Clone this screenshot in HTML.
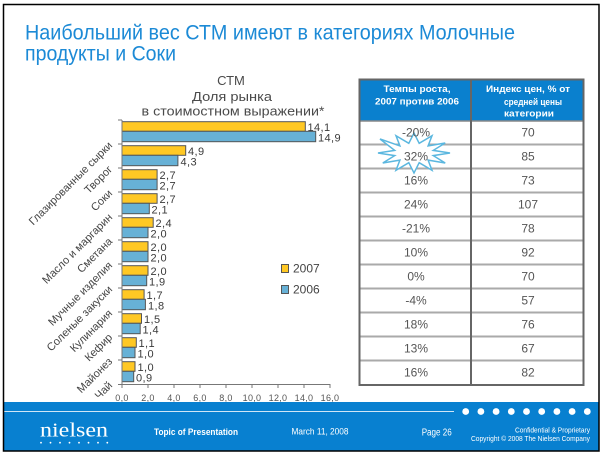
<!DOCTYPE html>
<html>
<head>
<meta charset="utf-8">
<style>
  html, body { margin:0; padding:0; background:#fff; }
  body { width:603px; height:457px; overflow:hidden; }
  svg { display:block; }
  text { font-family: "Liberation Sans", "Noto Sans CJK SC", sans-serif; }
</style>
</head>
<body>
<svg width="603" height="457" viewBox="0 0 603 457" xmlns="http://www.w3.org/2000/svg">
  <rect x="0" y="0" width="603" height="457" fill="#fff"/>

  <!-- Title -->
  <text x="25" y="39.5" font-size="21.5" fill="#1C8AD6" textLength="490" lengthAdjust="spacingAndGlyphs">Наибольший вес СТМ имеют в категориях Молочные</text>
  <text x="25" y="60.5" font-size="21.5" fill="#1C8AD6" textLength="151" lengthAdjust="spacingAndGlyphs">продукты и Соки</text>

  <!-- Chart title -->
  <text x="231" y="85" font-size="13" fill="#4a4a4a" text-anchor="middle">СТМ</text>
  <text x="232" y="101" font-size="13" fill="#4a4a4a" text-anchor="middle" textLength="80" lengthAdjust="spacingAndGlyphs">Доля рынка</text>
  <text x="233" y="115.5" font-size="13" fill="#4a4a4a" text-anchor="middle" textLength="183" lengthAdjust="spacingAndGlyphs">в стоимостном выражении*</text>

  <!-- Bars -->
  <g stroke="#555" stroke-width="1">
    <!-- group 0 -->
    <rect x="122" y="121.7" width="183.3" height="9.6" fill="#FFC824"/>
    <rect x="122" y="131.3" width="193.7" height="10.4" fill="#67B1D6"/>
    <rect x="122" y="145.7" width="63.7" height="9.6" fill="#FFC824"/>
    <rect x="122" y="155.3" width="55.9" height="10.4" fill="#67B1D6"/>
    <rect x="122" y="169.7" width="35.1" height="9.6" fill="#FFC824"/>
    <rect x="122" y="179.3" width="35.1" height="10.4" fill="#67B1D6"/>
    <rect x="122" y="193.7" width="35.1" height="9.6" fill="#FFC824"/>
    <rect x="122" y="203.3" width="27.3" height="10.4" fill="#67B1D6"/>
    <rect x="122" y="217.7" width="31.2" height="9.6" fill="#FFC824"/>
    <rect x="122" y="227.3" width="26" height="10.4" fill="#67B1D6"/>
    <rect x="122" y="241.7" width="26" height="9.6" fill="#FFC824"/>
    <rect x="122" y="251.3" width="26" height="10.4" fill="#67B1D6"/>
    <rect x="122" y="265.7" width="26" height="9.6" fill="#FFC824"/>
    <rect x="122" y="275.3" width="24.7" height="10.4" fill="#67B1D6"/>
    <rect x="122" y="289.7" width="22.1" height="9.6" fill="#FFC824"/>
    <rect x="122" y="299.3" width="23.4" height="10.4" fill="#67B1D6"/>
    <rect x="122" y="313.7" width="19.5" height="9.6" fill="#FFC824"/>
    <rect x="122" y="323.3" width="18.2" height="10.4" fill="#67B1D6"/>
    <rect x="122" y="337.7" width="14.3" height="9.6" fill="#FFC824"/>
    <rect x="122" y="347.3" width="13" height="10.4" fill="#67B1D6"/>
    <rect x="122" y="361.7" width="13" height="9.6" fill="#FFC824"/>
    <rect x="122" y="371.3" width="11.7" height="10.4" fill="#67B1D6"/>
  </g>

  <!-- Value labels -->
  <g font-size="11" fill="#3a3a3a" letter-spacing="0.4">
    <text x="307.5" y="131">14,1</text>
    <text x="318" y="141.7">14,9</text>
    <text x="188" y="155">4,9</text>
    <text x="180.5" y="165.7">4,3</text>
    <text x="159.5" y="179">2,7</text>
    <text x="159.5" y="189.7">2,7</text>
    <text x="159.5" y="203">2,7</text>
    <text x="151.5" y="213.7">2,1</text>
    <text x="155.5" y="227">2,4</text>
    <text x="150.5" y="237.7">2,0</text>
    <text x="150.5" y="251">2,0</text>
    <text x="150.5" y="261.7">2,0</text>
    <text x="150.5" y="275">2,0</text>
    <text x="149" y="285.7">1,9</text>
    <text x="146.5" y="299">1,7</text>
    <text x="148" y="309.7">1,8</text>
    <text x="144" y="323">1,5</text>
    <text x="142.5" y="333.7">1,4</text>
    <text x="138.5" y="347">1,1</text>
    <text x="137.5" y="357.7">1,0</text>
    <text x="137.5" y="371">1,0</text>
    <text x="136" y="381.7">0,9</text>
  </g>

  <!-- Axes -->
  <g stroke="#777" stroke-width="1" fill="none">
    <line x1="122" y1="120" x2="122" y2="384.5"/>
    <line x1="122" y1="384.5" x2="330.5" y2="384.5"/>
    <path d="M118 120H122 M118 144H122 M118 168H122 M118 192H122 M118 216H122 M118 240H122 M118 264H122 M118 288H122 M118 312H122 M118 336H122 M118 360H122 M118 384.5H122"/>
    <path d="M122 384.5V388 M148 384.5V388 M174 384.5V388 M200 384.5V388 M226 384.5V388 M252 384.5V388 M278 384.5V388 M304 384.5V388 M330 384.5V388"/>
  </g>

  <!-- X tick labels -->
  <g font-size="9" fill="#555" text-anchor="middle" letter-spacing="0.3">
    <text x="122" y="401">0,0</text>
    <text x="148" y="401">2,0</text>
    <text x="174" y="401">4,0</text>
    <text x="200" y="401">6,0</text>
    <text x="226" y="401">8,0</text>
    <text x="252" y="401">10,0</text>
    <text x="278" y="401">12,0</text>
    <text x="304" y="401">14,0</text>
    <text x="330" y="401">16,0</text>
  </g>

  <!-- Category labels (rotated) -->
  <g font-size="11" fill="#444" text-anchor="end">
    <text transform="translate(113,146) rotate(-45)">Глазированные сырки</text>
    <text transform="translate(113,170) rotate(-45)">Творог</text>
    <text transform="translate(113,194) rotate(-45)">Соки</text>
    <text transform="translate(113,218) rotate(-45)">Масло и маргарин</text>
    <text transform="translate(113,242) rotate(-45)">Сметана</text>
    <text transform="translate(113,266) rotate(-45)">Мучные изделия</text>
    <text transform="translate(113,290) rotate(-45)">Соленые закуски</text>
    <text transform="translate(113,314) rotate(-45)">Кулинария</text>
    <text transform="translate(113,338) rotate(-45)">Кефир</text>
    <text transform="translate(113,362) rotate(-45)">Майонез</text>
    <text transform="translate(113,386) rotate(-45)">Чай</text>
  </g>

  <!-- Legend -->
  <rect x="281.5" y="264.5" width="7" height="8" fill="#FFC824" stroke="#555" stroke-width="1"/>
  <text x="293" y="272.5" font-size="12" fill="#444">2007</text>
  <rect x="281.5" y="285.5" width="7" height="8" fill="#67B1D6" stroke="#555" stroke-width="1"/>
  <text x="293" y="293.5" font-size="12" fill="#444">2006</text>

  <!-- Table -->
  <rect x="359.5" y="79.5" width="224" height="41" fill="#0A80CE"/>
  <g stroke="#aaa" stroke-width="2">
    <line x1="360" y1="144.5" x2="583" y2="144.5"/>
    <line x1="360" y1="168.5" x2="583" y2="168.5"/>
    <line x1="360" y1="192.5" x2="583" y2="192.5"/>
    <line x1="360" y1="216.5" x2="583" y2="216.5"/>
    <line x1="360" y1="240.5" x2="583" y2="240.5"/>
    <line x1="360" y1="264.5" x2="583" y2="264.5"/>
    <line x1="360" y1="288.5" x2="583" y2="288.5"/>
    <line x1="360" y1="312.5" x2="583" y2="312.5"/>
    <line x1="360" y1="336.5" x2="583" y2="336.5"/>
    <line x1="360" y1="360.5" x2="583" y2="360.5"/>
  </g>
  <line x1="360" y1="121" x2="583" y2="121" stroke="#888" stroke-width="1.5"/>
  <line x1="471" y1="80" x2="471" y2="385" stroke="#666" stroke-width="2"/>
  <rect x="359.5" y="79.5" width="224" height="305.5" fill="none" stroke="#666" stroke-width="2"/>

  <!-- Header text -->
  <g font-size="9.5" font-weight="bold" fill="#fff" text-anchor="middle">
    <text x="417" y="92" textLength="67" lengthAdjust="spacingAndGlyphs">Темпы роста,</text>
    <text x="417" y="104.5" textLength="84" lengthAdjust="spacingAndGlyphs">2007 против 2006</text>
    <text x="528" y="92" textLength="84" lengthAdjust="spacingAndGlyphs">Индекс цен, % от</text>
    <text x="533" y="105" textLength="58" lengthAdjust="spacingAndGlyphs">средней цены</text>
    <text x="529" y="116.5" textLength="50" lengthAdjust="spacingAndGlyphs">категории</text>
  </g>

  <!-- Starburst -->
  <polygon points="450,153 433.3,155.6 445.2,163 428.1,160.1 432,170.3 419.2,162.7 414,173 408.8,162.7 396,170.3 399.9,160.1 382.8,163 394.7,155.6 378,153 394.7,150.4 380,139 399.9,145.9 396,135.7 408.8,143.3 414,133 419.2,143.3 432,135.7 428.1,145.9 445.2,143 433.3,150.4"
           fill="#fff" stroke="#5BB7DF" stroke-width="1.5" stroke-linejoin="miter"/>

  <!-- Table cell text -->
  <g font-size="12" fill="#555" text-anchor="middle">
    <text x="416" y="136.5">-20%</text>
    <text x="416" y="160.5">32%</text>
    <text x="416" y="184.5">16%</text>
    <text x="416" y="208.5">24%</text>
    <text x="416" y="232.5">-21%</text>
    <text x="416" y="256.5">10%</text>
    <text x="416" y="280.5">0%</text>
    <text x="416" y="304.5">-4%</text>
    <text x="416" y="328.5">18%</text>
    <text x="416" y="352.5">13%</text>
    <text x="416" y="376.5">16%</text>
    <text x="528" y="136.5">70</text>
    <text x="528" y="160.5">85</text>
    <text x="528" y="184.5">73</text>
    <text x="528" y="208.5">107</text>
    <text x="528" y="232.5">78</text>
    <text x="528" y="256.5">92</text>
    <text x="528" y="280.5">70</text>
    <text x="528" y="304.5">57</text>
    <text x="528" y="328.5">76</text>
    <text x="528" y="352.5">67</text>
    <text x="528" y="376.5">82</text>
  </g>

  <!-- Footer -->
  <rect x="4" y="402" width="594.5" height="48.5" fill="#0880D0"/>
  <line x1="4" y1="411.5" x2="454" y2="411.5" stroke="#cfe6f6" stroke-width="1"/>
  <g fill="#fff">
    <circle cx="465.7" cy="411.5" r="3.4"/>
    <circle cx="480.9" cy="411.5" r="3.4"/>
    <circle cx="496.1" cy="411.5" r="3.4"/>
    <circle cx="511.3" cy="411.5" r="3.4"/>
    <circle cx="526.5" cy="411.5" r="3.4"/>
    <circle cx="541.7" cy="411.5" r="3.4"/>
    <circle cx="556.9" cy="411.5" r="3.4"/>
    <circle cx="572.1" cy="411.5" r="3.4"/>
    <circle cx="587.3" cy="411.5" r="3.4"/>
  </g>
  <text x="40" y="436.7" font-family="Liberation Serif, serif" font-size="20" fill="#fff" textLength="68" lengthAdjust="spacingAndGlyphs" style="font-family:'Liberation Serif', serif">nielsen</text>
  <g fill="#fff">
    <circle cx="41" cy="442.7" r="0.9"/>
    <circle cx="50.5" cy="442.7" r="0.9"/>
    <circle cx="60" cy="442.7" r="0.9"/>
    <circle cx="69.5" cy="442.7" r="0.9"/>
    <circle cx="79" cy="442.7" r="0.9"/>
    <circle cx="88.5" cy="442.7" r="0.9"/>
    <circle cx="98" cy="442.7" r="0.9"/>
    <circle cx="107.3" cy="442.7" r="0.9"/>
  </g>
  <text x="154" y="435" font-size="9" font-weight="bold" fill="#fff" textLength="84" lengthAdjust="spacingAndGlyphs">Topic of Presentation</text>
  <text x="291.5" y="434.5" font-size="9" fill="#fff" textLength="57" lengthAdjust="spacingAndGlyphs">March 11, 2008</text>
  <text x="421.7" y="435.5" font-size="10" fill="#fff" textLength="30" lengthAdjust="spacingAndGlyphs">Page 26</text>
  <text x="590" y="432.5" font-size="7" fill="#fff" text-anchor="end" textLength="75" lengthAdjust="spacingAndGlyphs">Confidential &amp; Proprietary</text>
  <text x="590" y="441" font-size="7" fill="#fff" text-anchor="end" textLength="119" lengthAdjust="spacingAndGlyphs">Copyright © 2008 The Nielsen Company</text>

  <!-- Slide border -->
  <rect x="3.5" y="4.5" width="595.5" height="446.5" fill="none" stroke="#000" stroke-width="1.5"/>
</svg>
</body>
</html>
